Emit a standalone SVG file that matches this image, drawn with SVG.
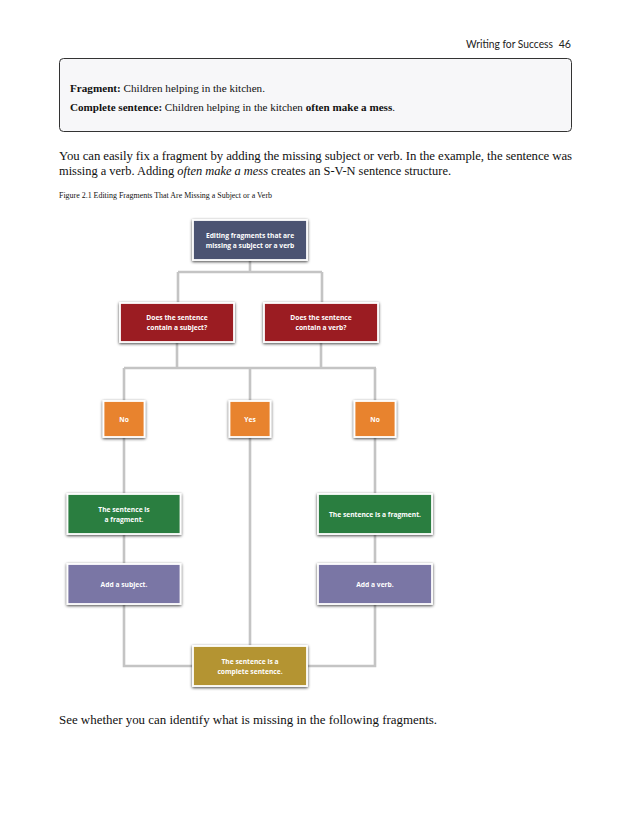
<svg xmlns="http://www.w3.org/2000/svg" width="630" height="815" viewBox="0 0 630 815">
<defs>
<filter id="sh" x="-20%" y="-20%" width="140%" height="150%">
<feDropShadow dx="0" dy="1" stdDeviation="1.6" flood-color="#000" flood-opacity="0.75"/>
</filter>
<style>
.serif{font-family:"Liberation Serif","Times New Roman",serif;fill:#111}
.hdr{font-family:Lato,"Open Sans",sans-serif;font-size:10.6px;fill:#222}
.node rect{stroke:#fff;stroke-width:1.8;filter:url(#sh)}
.node text{font-family:"Open Sans","Liberation Sans",sans-serif;font-weight:bold;font-size:6.7px;fill:#fff;text-anchor:middle}
.conn{fill:none;stroke:#c4c4c4;stroke-width:2.6}
</style>
</defs>
<rect width="630" height="815" fill="#fff"/>
<text class="hdr" x="466" y="48" textLength="87" lengthAdjust="spacingAndGlyphs">Writing for Success</text>
<text class="hdr" x="571" y="48" text-anchor="end">46</text>
<rect x="59.5" y="58.5" width="512" height="73" rx="4" fill="#f7f7f9" stroke="#333" stroke-width="1"/>
<text class="serif" x="70" y="92" font-size="11.2" textLength="195" lengthAdjust="spacingAndGlyphs"><tspan font-weight="bold">Fragment:</tspan> Children helping in the kitchen.</text>
<text class="serif" x="70" y="111" font-size="11.2" textLength="325" lengthAdjust="spacingAndGlyphs"><tspan font-weight="bold">Complete sentence:</tspan> Children helping in the kitchen <tspan font-weight="bold">often make a mess</tspan>.</text>
<text class="serif" x="59" y="160" font-size="12.8" textLength="513" lengthAdjust="spacing">You can easily fix a fragment by adding the missing subject or verb. In the example, the sentence was</text>
<text class="serif" x="59" y="175" font-size="12.8" textLength="392" lengthAdjust="spacingAndGlyphs">missing a verb. Adding <tspan font-style="italic">often make a mess</tspan> creates an S-V-N sentence structure.</text>
<text class="serif" x="59" y="198" font-size="7.8" fill="#333" textLength="213" lengthAdjust="spacingAndGlyphs">Figure 2.1 Editing Fragments That Are Missing a Subject or a Verb</text>
<g id="connectors" class="conn">
<path d="M250 260 V272 M178 272 H322 M178 272 V303 M322 272 V303"/>
<path d="M177 342 V368 M321 342 V368 M124 368 H376 M124 368 V401 M250 368 V401 M375 368 V401"/>
<path d="M124 437 V494 M375 437 V494 M124 534 V564 M375 534 V564"/>
<path d="M250 437 V646"/>
<path d="M124 604 V666 H193 M375 604 V666 H308"/>
</g>
<g id="n-top" class="node"><rect x="193" y="220" width="114" height="40" fill="#4b5272"/><text x="250" y="238">Editing fragments that are</text><text x="250" y="248">missing a subject or a verb</text></g>
<g id="n-subj" class="node"><rect x="120" y="303" width="114" height="39" fill="#9b1c23"/><text x="177" y="320">Does the sentence</text><text x="177" y="330">contain a subject?</text></g>
<g id="n-verb" class="node"><rect x="264" y="303" width="114" height="39" fill="#9b1c23"/><text x="321" y="320">Does the sentence</text><text x="321" y="330">contain a verb?</text></g>
<g id="n-no1" class="node"><rect x="103.5" y="401" width="41" height="36" fill="#e8832d"/><text x="124" y="421.5">No</text></g>
<g id="n-yes" class="node"><rect x="229.5" y="401" width="41" height="36" fill="#e8832d"/><text x="250" y="421.5">Yes</text></g>
<g id="n-no2" class="node"><rect x="354.5" y="401" width="41" height="36" fill="#e8832d"/><text x="375" y="421.5">No</text></g>
<g id="n-frag1" class="node"><rect x="67.5" y="494" width="113" height="40" fill="#2b7e40"/><text x="124" y="512">The sentence is</text><text x="124" y="522">a fragment.</text></g>
<g id="n-frag2" class="node"><rect x="318" y="494" width="114" height="40" fill="#2b7e40"/><text x="375" y="516.5">The sentence is a fragment.</text></g>
<g id="n-addsubj" class="node"><rect x="67.5" y="564" width="113" height="40" fill="#7a76a5"/><text x="124" y="586.5">Add a subject.</text></g>
<g id="n-addverb" class="node"><rect x="318" y="564" width="114" height="40" fill="#7a76a5"/><text x="375" y="586.5">Add a verb.</text></g>
<g id="n-complete" class="node"><rect x="193" y="646" width="114" height="40" fill="#b49431"/><text x="250" y="664">The sentence is a</text><text x="250" y="674">complete sentence.</text></g>
<text class="serif" x="59" y="724" font-size="12.8" textLength="378" lengthAdjust="spacingAndGlyphs">See whether you can identify what is missing in the following fragments.</text>
</svg>
